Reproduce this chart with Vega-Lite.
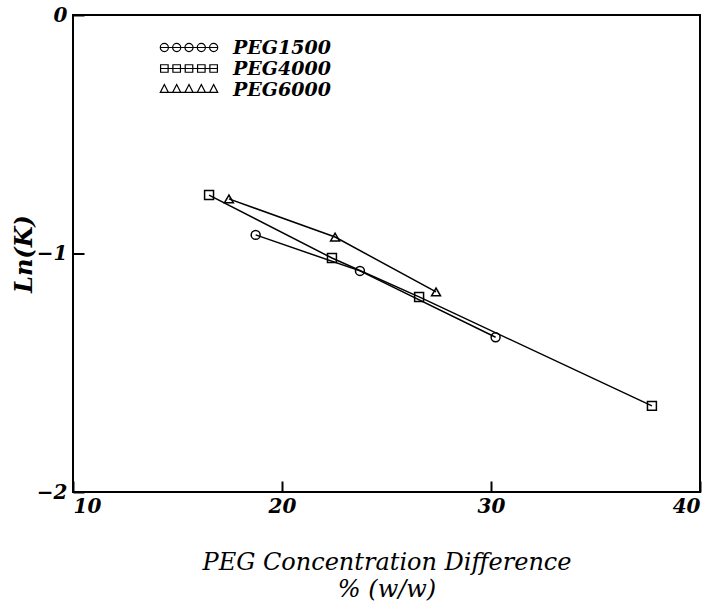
{
  "$schema": "https://vega.github.io/schema/vega-lite/v6.json",
  "width": 627,
  "height": 477,
  "autosize": {"type": "none"},
  "padding": {"left": 73, "top": 15, "right": 7, "bottom": 119},
  "background": "white",
  "config": {
    "view": {"stroke": "black", "strokeWidth": 2},
    "font": "DejaVu Serif",
    "axis": {
      "grid": false,
      "domain": false,
      "ticks": true,
      "tickSize": 11,
      "tickColor": "#000000",
      "tickWidth": 2,
      "tickOpacity": 1,
      "tickDash": [],
      "tickRound": false,
      "offset": -11,
      "zindex": 2,
      "labelColor": "black",
      "labelFont": "DejaVu Serif",
      "labelFontStyle": "italic",
      "labelFontWeight": "bold",
      "labelFontSize": 20,
      "titleColor": "black",
      "titleFont": "DejaVu Serif",
      "titleFontStyle": "italic"
    }
  },
  "data": {
    "values": [
      {"series": "PEG1500", "conc": 18.74, "lnk": -0.922},
      {"series": "PEG1500", "conc": 23.73, "lnk": -1.073},
      {"series": "PEG1500", "conc": 30.22, "lnk": -1.351},
      {"series": "PEG4000", "conc": 16.51, "lnk": -0.755},
      {"series": "PEG4000", "conc": 22.39, "lnk": -1.019},
      {"series": "PEG4000", "conc": 26.56, "lnk": -1.182},
      {"series": "PEG4000", "conc": 37.7, "lnk": -1.639},
      {"series": "PEG6000", "conc": 17.46, "lnk": -0.771},
      {"series": "PEG6000", "conc": 22.54, "lnk": -0.931},
      {"series": "PEG6000", "conc": 27.37, "lnk": -1.161}
    ]
  },
  "encoding": {
    "x": {
      "field": "conc",
      "type": "quantitative",
      "scale": {"domain": [10, 40], "nice": false, "zero": false},
      "axis": {
        "tickCount": 3,
        "labelOverlap": false,
        "labelFlush": true,
        "labelPadding": 4,
        "title": ["PEG Concentration Difference", "% (w/w)"],
        "titleFontSize": 24,
        "titleFontWeight": "normal",
        "titlePadding": 34,
        "titleLineHeight": 27
      }
    },
    "y": {
      "field": "lnk",
      "type": "quantitative",
      "scale": {"domain": [-2, 0], "nice": false, "zero": false},
      "axis": {
        "tickCount": 2,
        "labelOverlap": false,
        "labelPadding": 6,
        "title": "Ln(K)",
        "titleFontSize": 24,
        "titleFontWeight": "bold",
        "titlePadding": 0
      }
    }
  },
  "layer": [
    {
      "mark": {"type": "line", "color": "black", "strokeWidth": 1.5},
      "encoding": {
        "detail": {"field": "series", "type": "nominal"},
        "order": {"field": "conc", "type": "quantitative"}
      }
    },
    {
      "mark": {"type": "point", "filled": false, "color": "black", "strokeWidth": 1.5, "size": 80, "opacity": 1},
      "encoding": {
        "shape": {
          "field": "series",
          "type": "nominal",
          "scale": {"domain": ["PEG1500", "PEG4000", "PEG6000"], "range": ["circle", "square", "triangle-up"]},
          "legend": null
        }
      }
    },
    {
      "transform": [{"filter": "false"}],
      "mark": {"type": "point", "filled": false, "color": "black", "strokeWidth": 1.2},
      "encoding": {
        "shape": {
          "field": "series",
          "type": "nominal",
          "scale": {
            "domain": ["PEG1500", "PEG4000", "PEG6000"],
            "range": [
              "M-1,0H1M-0.99,0a0.14,0.14 0 1,0 0.28,0a0.14,0.14 0 1,0 -0.28,0M-0.565,0a0.14,0.14 0 1,0 0.28,0a0.14,0.14 0 1,0 -0.28,0M-0.14,0a0.14,0.14 0 1,0 0.28,0a0.14,0.14 0 1,0 -0.28,0M0.285,0a0.14,0.14 0 1,0 0.28,0a0.14,0.14 0 1,0 -0.28,0M0.71,0a0.14,0.14 0 1,0 0.28,0a0.14,0.14 0 1,0 -0.28,0",
              "M-1,0H1M-0.98,-0.13h0.26v0.26h-0.26zM-0.555,-0.13h0.26v0.26h-0.26zM-0.13,-0.13h0.26v0.26h-0.26zM0.295,-0.13h0.26v0.26h-0.26zM0.72,-0.13h0.26v0.26h-0.26z",
              "M-1,0.1H1M-0.85,-0.17L-0.71,0.1L-0.99,0.1zM-0.425,-0.17L-0.285,0.1L-0.565,0.1zM0,-0.17L0.14,0.1L-0.14,0.1zM0.425,-0.17L0.565,0.1L0.285,0.1zM0.85,-0.17L0.99,0.1L0.71,0.1z"
            ]
          },
          "legend": {
            "title": null,
            "orient": "none",
            "legendX": 86,
            "legendY": 22,
            "padding": 0,
            "rowPadding": 0,
            "clipHeight": 21,
            "symbolSize": 3364,
            "symbolStrokeWidth": 1.2,
            "symbolStrokeColor": "black",
            "symbolFillColor": "transparent",
            "symbolOpacity": 1,
            "labelFont": "DejaVu Serif",
            "labelFontStyle": "italic",
            "labelFontWeight": "bold",
            "labelFontSize": 19,
            "labelColor": "black",
            "labelOffset": 14
          }
        }
      }
    }
  ],
  "resolve": {"scale": {"shape": "independent"}, "legend": {"shape": "independent"}}
}
